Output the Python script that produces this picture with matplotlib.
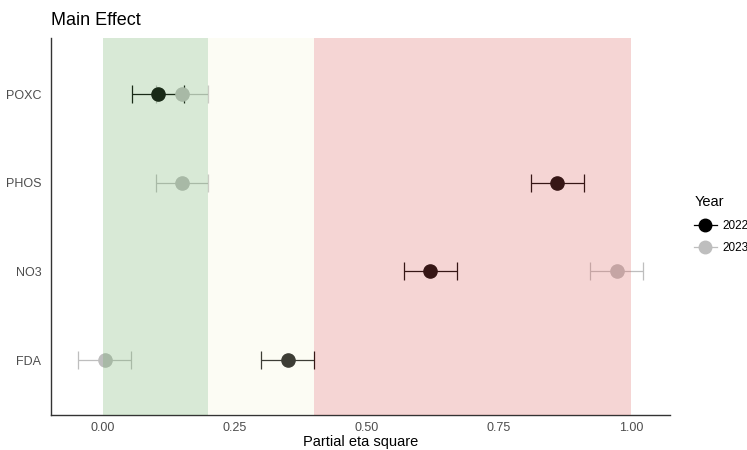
import matplotlib.pyplot as plt
from matplotlib.lines import Line2D

plt.rcParams['font.family'] = ['Liberation Sans', 'DejaVu Sans']

# effect sizes per soil indicator, top to bottom
indicators = ["POXC", "PHOS", "NO3", "FDA"]
eta_2022 = [0.104, 0.86, 0.62, 0.35]
low_2022 = [0.055, 0.81, 0.57, 0.30]
high_2022 = [0.153, 0.91, 0.67, 0.40]
eta_2023 = [0.15, 0.15, 0.973, 0.004]
low_2023 = [0.10, 0.10, 0.923, -0.046]
high_2023 = [0.20, 0.20, 1.023, 0.054]

# effect size bands: small / medium / large
band_edges = [0.0, 0.2, 0.4, 1.0]
band_colors = ["#67ab5f", "#f5f5d7", "#db5b57"]

fig = plt.figure(figsize=(7.47, 4.5), dpi=100)
ax = fig.add_axes([0.0683, 0.078, 0.829, 0.838])

ypos = list(range(len(indicators)))[::-1]

def draw_year(eta, lo, hi, color):
    xerr = [[e - l for e, l in zip(eta, lo)], [h - e for e, h in zip(eta, hi)]]
    ax.errorbar(eta, ypos, xerr=xerr, fmt="o", color=color, ecolor=color,
                markersize=9.5, elinewidth=0.9, capsize=6.5, capthick=0.9, zorder=2)

draw_year(eta_2023, low_2023, high_2023, "#bebebe")
draw_year(eta_2022, low_2022, high_2022, "black")

# shaded bands go over the points, like annotate() after the geoms
for i, c in enumerate(band_colors):
    ax.axvspan(band_edges[i], band_edges[i + 1], color=c, alpha=0.25, lw=0, zorder=3)

ax.set_xlim(-0.098, 1.074)
ax.set_ylim(-0.62, 3.64)
ax.set_yticks(ypos)
ax.set_yticklabels(indicators)
ax.set_xticks([0, 0.25, 0.5, 0.75, 1.0])
ax.set_xticklabels(["0.00", "0.25", "0.50", "0.75", "1.00"])
ax.tick_params(length=0, labelsize=9, labelcolor="#4d4d4d")
ax.tick_params(axis="y", pad=7)
ax.tick_params(axis="x", pad=5)
for s in ["top", "right"]:
    ax.spines[s].set_visible(False)
for s in ["left", "bottom"]:
    ax.spines[s].set_color("#333333")
    ax.spines[s].set_linewidth(1.0)

ax.set_xlabel("Partial eta square", fontsize=10.5, labelpad=1)
fig.text(0.0683, 0.935, "Main Effect", fontsize=13, ha="left", va="bottom")

handles = [
    Line2D([], [], color="black", marker="o", markersize=9, lw=0.9),
    Line2D([], [], color="#bebebe", marker="o", markersize=9, lw=0.9),
]
leg = fig.legend(handles, ["2022", "2023"], title="Year", loc="upper left",
                 bbox_to_anchor=(0.915, 0.59), frameon=False, fontsize=8.5,
                 title_fontsize=10.5, handlelength=1.9, handletextpad=0.5,
                 labelspacing=0.9)
leg._legend_box.align = "left"

fig.savefig("out.png", dpi=100)
